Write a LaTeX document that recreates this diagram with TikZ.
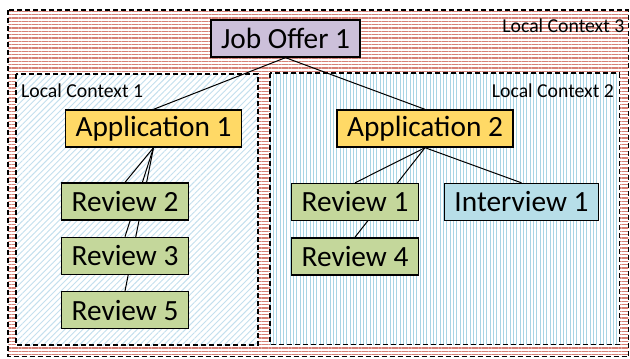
\documentclass[tikz,border=0pt]{standalone}
\usepackage{fontspec}
\setmainfont{Carlito}
\usetikzlibrary{positioning,patterns.meta}

\definecolor{offerfill}{RGB}{204,192,218}
\definecolor{appfill}{RGB}{255,217,102}
\definecolor{reviewfill}{RGB}{196,215,155}
\definecolor{interviewfill}{RGB}{183,222,232}
\definecolor{redline}{RGB}{214,128,118}
\definecolor{blueline}{RGB}{168,212,228}
\definecolor{paleblue}{RGB}{196,224,238}

\pgfdeclarelayer{background}
\pgfdeclarelayer{links}
\pgfsetlayers{background,links,main}

\begin{document}
\begin{tikzpicture}[
	x = 0.75pt, y = -0.75pt, % one unit is one pixel, y grows downwards
	item/.style={draw=black, line width=1pt, inner xsep=7.5pt, minimum height=27.75pt, font=\fontsize{22}{26}\selectfont},
	offer/.style={item, fill=offerfill},
	app/.style={item, fill=appfill},
	review/.style={item, fill=reviewfill, minimum width=93pt},
	interview/.style={item, fill=interviewfill},
	ctx/.style={draw=black, line width=1pt, dash pattern=on 3.75pt off 2.25pt}, % context frames
	lbl/.style={inner sep=1pt, font=\fontsize{14.8}{17}\selectfont},
	link/.style={line width=0.75pt},
	]
	\useasboundingbox (0,0) rectangle (630,358);

	% Local contexts
	\begin{pgfonlayer}{background}
	\draw[ctx, pattern={Lines[angle=0, distance=2.5pt, line width=0.8pt]}, pattern color=redline] (8,10) rectangle (628.5,356.5);
	\draw[ctx, preaction={fill=white}, pattern={Lines[angle=45, distance=3.2pt, line width=0.7pt]}, pattern color=paleblue] (16,74) rectangle (258,345);
	\draw[ctx, preaction={fill=white}, pattern={Lines[angle=90, distance=2.5pt, line width=0.7pt]}, pattern color=blueline] (270,73) rectangle (619.5,344.5);
	\end{pgfonlayer}
	\node[lbl, anchor=north east] (lc3) at (626,17) {Local Context 3};
	\node[lbl, anchor=north west] (lc1) at (19.5,82) {Local Context 1};
	\node[lbl, anchor=north east] (lc2) at (615.5,82) {Local Context 2};

	% Nodes and their relative positions
	\node[offer] (JO) at (285.5,38.5) {Job Offer 1};
	\node[app] (A1) at (153.5,128.5) {Application 1};
	\node[app] (A2) at (425,128.5) {Application 2};
	\node[review] (R2) at (125,201.5) {Review 2};
	\node[review] (R3) [below = 12pt of R2] {Review 3};
	\node[review] (R5) [below = 12pt of R3] {Review 5};
	\node[review] (R1) at (355,202) {Review 1};
	\node[review] (R4) [below = 12pt of R1] {Review 4};
	\node[interview] (I1) at (521.5,202) {Interview 1};

	% Paths connecting nodes
	\begin{pgfonlayer}{links}
	\path[link] (JO.south) edge (A1.north);
	\path[link] (JO.south) edge (A2.north);
	\path[link] (A1.south) edge (R2.north);
	\path[link] (A1.south) edge (R3.north);
	\path[link] (A1.south) edge (R5.north);
	\path[link] (A2.south) edge (R1.north);
	\path[link] (A2.south) edge (R4.north);
	\path[link] (A2.south) edge (I1.north);
	\end{pgfonlayer}

\end{tikzpicture}
\end{document}
